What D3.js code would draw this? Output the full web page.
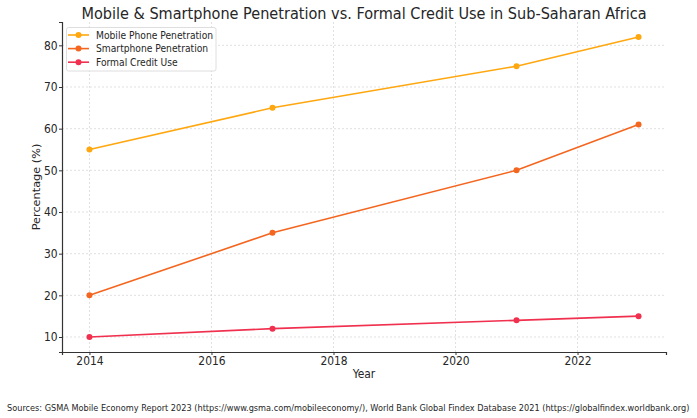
<!DOCTYPE html>
<html>
<head>
<meta charset="utf-8">
<script src="https://cdn.jsdelivr.net/npm/d3@7"></script>
<style>
  body { margin: 0; background: #fff; }
  text { font-family: "DejaVu Sans Condensed", "DejaVu Sans", sans-serif; fill: #262626; }
</style>
</head>
<body>
<div id="chart"></div>
<script>
// data
const years = [2014, 2017, 2021, 2023];
const mobilePenetration = [55, 65, 75, 82];
const smartphonePenetration = [20, 35, 50, 61];
const formalCreditUse = [10, 12, 14, 15];
const seriesNames = ["Mobile Phone Penetration", "Smartphone Penetration", "Formal Credit Use"];
const seriesColors = ["#ffa70f", "#f4661f", "#f0304e"];
const xTicks = [2014, 2016, 2018, 2020, 2022];
const yTicks = [10, 20, 30, 40, 50, 60, 70, 80];

const W = 697, H = 418;
const margin = {top: 22, right: 31, bottom: 66, left: 62},
    width = W - margin.left - margin.right,
    height = H - margin.top - margin.bottom;

const root = d3.select("#chart").append("svg")
    .attr("width", W).attr("height", H);

const svg = root.append("g")
    .attr("transform", `translate(${margin.left},${margin.top})`);

const series = [mobilePenetration, smartphonePenetration, formalCreditUse].map((vals, i) => ({
  name: seriesNames[i],
  color: seriesColors[i],
  values: years.map((y, j) => ({year: y, value: vals[j]}))
}));

// matplotlib-style 5% padding
const x = d3.scaleLinear().domain([2013.55, 2023.45]).range([0, width]);
const y = d3.scaleLinear().domain([6.4, 85.6]).range([height, 0]);

// grid
svg.append("g").selectAll("line").data(xTicks).join("line")
    .attr("x1", d => x(d)).attr("x2", d => x(d))
    .attr("y1", 0).attr("y2", height)
    .attr("stroke", "#d3d3d3").attr("stroke-width", 0.7).attr("stroke-dasharray", "2,2");
svg.append("g").selectAll("line").data(yTicks).join("line")
    .attr("x1", 0).attr("x2", width)
    .attr("y1", d => y(d)).attr("y2", d => y(d))
    .attr("stroke", "#d3d3d3").attr("stroke-width", 0.7).attr("stroke-dasharray", "2,2");

// axes
const xAxis = svg.append("g")
    .attr("transform", `translate(0,${height})`)
    .call(d3.axisBottom(x).tickValues(xTicks).tickFormat(d3.format("d")).tickSizeOuter(0).tickSize(3).tickPadding(1.5));
const yAxis = svg.append("g")
    .call(d3.axisLeft(y).tickValues(yTicks).tickSizeOuter(0).tickSize(3).tickPadding(1.5));
[xAxis, yAxis].forEach(a => {
  a.attr("font-family", null).attr("font-size", null);
  a.select(".domain").attr("stroke", "#333").attr("stroke-width", 1.2);
  a.selectAll(".tick line").attr("stroke", "#333");
  a.selectAll("text").style("font-size", "11.9px").attr("fill", "#262626");
});

// lines
const line = d3.line().x(d => x(d.year)).y(d => y(d.value));
svg.selectAll(".line").data(series).join("path")
    .attr("fill", "none")
    .attr("stroke", d => d.color)
    .attr("stroke-width", 1.6)
    .attr("d", d => line(d.values));

series.forEach(s => {
  svg.append("g").selectAll("circle").data(s.values).join("circle")
      .attr("cx", d => x(d.year)).attr("cy", d => y(d.value))
      .attr("r", 3).attr("fill", s.color);
});

// legend
const leg = svg.append("g").attr("transform", "translate(4.5,5.5)");
leg.append("rect").attr("width", 149.5).attr("height", 43.5).attr("rx", 2)
    .attr("fill", "#fff").attr("fill-opacity", 0.85)
    .attr("stroke", "#d6d6d6").attr("stroke-width", 0.8);
series.forEach((s, i) => {
  const g = leg.append("g").attr("transform", `translate(0,${7.5 + i * 13.6})`);
  g.append("line").attr("x1", 1.5).attr("x2", 22.5).attr("stroke", s.color).attr("stroke-width", 1.6);
  g.append("circle").attr("cx", 12).attr("r", 3).attr("fill", s.color);
  g.append("text").attr("x", 29.5).attr("dy", "0.35em").text(s.name).style("font-size", "10.2px");
});

// titles
root.append("text").attr("x", margin.left + width / 2).attr("y", 19)
    .attr("text-anchor", "middle").style("font-size", "16.1px")
    .text("Mobile & Smartphone Penetration vs. Formal Credit Use in Sub-Saharan Africa");
root.append("text").attr("x", margin.left + width / 2).attr("y", 378)
    .attr("text-anchor", "middle").style("font-size", "11.9px").text("Year");
root.append("text").attr("transform", `translate(40,${margin.top + height / 2}) rotate(-90)`)
    .attr("text-anchor", "middle").style("font-size", "11.3px")
    .style("font-family", "'DejaVu Sans', sans-serif").text("Percentage (%)");
const src = root.append("text").attr("x", 7).attr("y", 411).style("font-size", "10px")
    .text("Sources: GSMA Mobile Economy Report 2023 (https://www.gsma.com/mobileeconomy/), World Bank Global Findex Database 2021 (https://globalfindex.worldbank.org)");
// fit the source line to the width it takes in the picture
const srcLen = src.node().getComputedTextLength();
src.style("font-size", (10 * 683 / srcLen).toFixed(2) + "px");
</script>
</body>
</html>
